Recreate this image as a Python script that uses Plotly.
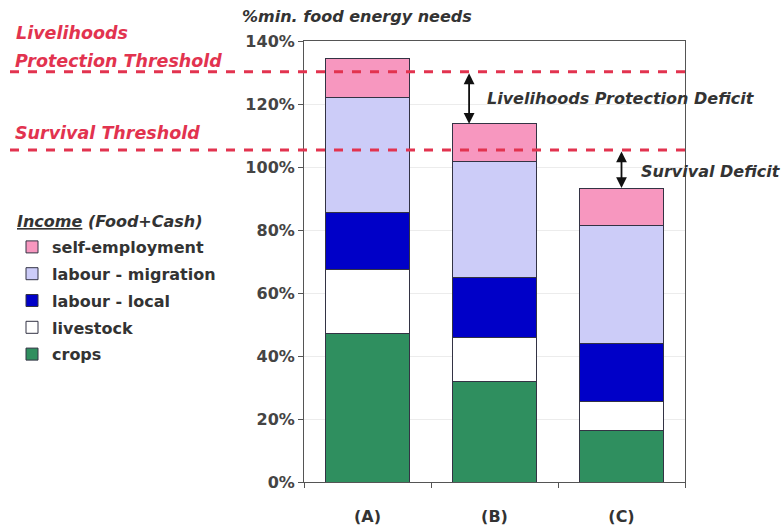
import plotly.graph_objects as go

categories = ["(A)", "(B)", "(C)"]
crops = [0.473, 0.320, 0.162]
livestock = [0.203, 0.140, 0.092]
labour_local = [0.178, 0.188, 0.187]
labour_migration = [0.368, 0.368, 0.372]
self_employment = [0.124, 0.121, 0.120]
lp_threshold = 1.302
survival_threshold = 1.054
ytick_vals = [0, 0.2, 0.4, 0.6, 0.8, 1.0, 1.2, 1.4]
ytick_text = ["0%", "20%", "40%", "60%", "80%", "100%", "120%", "140%"]

series = [
    ("crops", crops, "#2f8f5f", 5),
    ("livestock", livestock, "#ffffff", 4),
    ("labour - local", labour_local, "#0000c8", 3),
    ("labour - migration", labour_migration, "#ccccf8", 2),
    ("self-employment", self_employment, "#f797bf", 1),
]

FONT = "DejaVu Sans, Verdana, sans-serif"
RED = "#e2334f"
L, B, PW, PH = 304, 47, 381, 441


def px(xp):
    return (xp - L) / PW


def py(yp):
    return (529 - B - yp) / PH


fig = go.Figure()
for name, vals, col, rank in series:
    fig.add_trace(go.Bar(
        x=categories, y=vals, name="<b>" + name + "</b>", legendgroup=name, legendrank=rank,
        marker=dict(color=col, line=dict(color="#333344", width=1)),
        width=0.66,
    ))

totals = [sum(v) for v in zip(crops, livestock, labour_local, labour_migration, self_employment)]

fig.update_layout(
    barmode="stack",
    width=784, height=529,
    margin=dict(l=L, r=784 - L - PW, t=41, b=B, autoexpand=False),
    plot_bgcolor="white", paper_bgcolor="white",
    font=dict(family=FONT, size=12, color="#333333"),
    showlegend=True,
    legend=dict(
        x=px(12), y=py(230), xanchor="left", yanchor="top",
        traceorder="grouped", tracegroupgap=3,
        font=dict(size=16, color="#333333", family=FONT),
        itemwidth=30,
        bgcolor="rgba(0,0,0,0)",
    ),
    xaxis=dict(
        showline=True, linecolor="#555555", mirror=True,
        ticks="outside", tickson="boundaries", ticklen=5, tickcolor="#555555",
        showgrid=False, automargin=False,
        tickfont=dict(size=16, color="#333333", family=FONT),
        tickprefix="<b>", ticksuffix="</b>",
        ticklabelstandoff=20,
    ),
    yaxis=dict(
        range=[0, 1.4], tickvals=ytick_vals, ticktext=["<b>" + t + "</b>" for t in ytick_text],
        showline=True, linecolor="#555555", mirror=True,
        ticks="outside", ticklen=5, tickcolor="#555555",
        showgrid=True, gridcolor="#ececec", automargin=False,
        tickfont=dict(size=16, color="#444444", family=FONT),
    ),
)

# legend title
fig.add_annotation(xref="paper", yref="paper", x=px(110), y=py(221), xanchor="center", yanchor="middle",
                   text="<b><i><u>Income</u> (Food+Cash)</i></b>", showarrow=False, font=dict(size=16, color="#333333"))

# threshold dashed lines
for yv in [lp_threshold, survival_threshold]:
    fig.add_shape(type="line", xref="paper", yref="y", x0=px(10), x1=1.0, y0=yv, y1=yv,
                  line=dict(color=RED, width=3, dash="dash"), layer="above")

# threshold labels
fig.add_annotation(xref="paper", yref="paper", x=px(72), y=py(33), xanchor="center", yanchor="middle",
                   text="<b><i>Livelihoods</i></b>", showarrow=False, font=dict(size=17.5, color=RED))
fig.add_annotation(xref="paper", yref="paper", x=px(118), y=py(61), xanchor="center", yanchor="middle",
                   text="<b><i>Protection Threshold</i></b>", showarrow=False, font=dict(size=17.5, color=RED))
fig.add_annotation(xref="paper", yref="paper", x=px(108), y=py(133), xanchor="center", yanchor="middle",
                   text="<b><i>Survival Threshold</i></b>", showarrow=False, font=dict(size=17.5, color=RED))

# y-axis title
fig.add_annotation(xref="paper", yref="paper", x=px(357), y=py(17), xanchor="center", yanchor="middle",
                   text="<b><i>%min. food energy needs</i></b>", showarrow=False, font=dict(size=16, color="#333333"))

# deficit arrows
fig.add_annotation(x=0.80, y=totals[1], ax=0.80, ay=lp_threshold, xref="x", yref="y", axref="x", ayref="y",
                   text="", showarrow=True, arrowhead=2, startarrowhead=2, arrowside="end+start",
                   arrowsize=1.2, startarrowsize=1.2, arrowwidth=1.8, arrowcolor="#111111")
fig.add_annotation(x=2.0, y=totals[2], ax=2.0, ay=survival_threshold, xref="x", yref="y", axref="x", ayref="y",
                   text="", showarrow=True, arrowhead=2, startarrowhead=2, arrowside="end+start",
                   arrowsize=1.2, startarrowsize=1.2, arrowwidth=1.8, arrowcolor="#111111")

fig.add_annotation(xref="paper", yref="paper", x=px(621), y=py(98), xanchor="center", yanchor="middle",
                   text="<b><i>Livelihoods Protection Deficit</i></b>", showarrow=False, font=dict(size=16, color="#333333"))
fig.add_annotation(xref="paper", yref="paper", x=px(711), y=py(171), xanchor="center", yanchor="middle",
                   text="<b><i>Survival Deficit</i></b>", showarrow=False, font=dict(size=16, color="#333333"))

fig.write_html("out.html")
